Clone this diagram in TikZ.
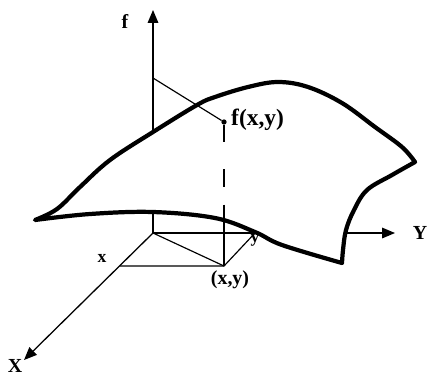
\documentclass[tikz,border=0pt]{standalone}
\usepackage{fontspec}
\setmainfont{Liberation Serif}
\usetikzlibrary{arrows.meta,positioning}

\begin{document}
\begin{tikzpicture}[
    x=0.03cm, y=-0.03cm,
    axis/.style={line width=1pt},
    arrow/.style={-{Triangle[length=11pt,width=9pt]}, line width=1.1pt},
    surface/.style={line width=3.6pt, fill=white, line join=round},
    proj/.style={line width=1pt},
    dotnode/.style={circle, fill, inner sep=0pt, minimum size=4.5pt},
    lbl/.style={font=\fontsize{17}{19}\selectfont\bfseries, inner sep=0pt},
    smalllbl/.style={font=\fontsize{15}{17}\selectfont\bfseries, inner sep=0pt},
    biglbl/.style={font=\fontsize{20}{22}\selectfont\bfseries, inner sep=0pt}
]
    \useasboundingbox (0,0) rectangle (429,379);

    % Axes
    \coordinate (O) at (153,233);
    \coordinate (ftip) at (153,10);
    \coordinate (Ytip) at (395,233);
    \coordinate (Xtip) at (24,360);
    \draw[arrow] (O) -- (ftip);
    \draw[arrow] (O) -- (Ytip);
    \draw[arrow] (O) -- (Xtip);

    % Projections in the base plane
    \coordinate (xpt) at (120,266);
    \coordinate (ypt) at (255,233);
    \coordinate (pxy) at (224,266);
    \draw[proj] (xpt) -- (pxy) -- (ypt);
    \draw[proj] (O) -- (pxy);

    % Surface
    \draw[surface] plot[smooth, tension=0.6] coordinates {(35,220) (57,209) (80,187) (110,160) (153,132) (197,105) (215,97) (248,87) (278,82) (308,87) (342,103) (375,127) (402,147) (415,162)}
        -- plot[smooth, tension=0.6] coordinates {(415,162) (392,175) (367,190) (354,210) (346,230) (343,250) (342,263)}
        -- plot[smooth, tension=0.6] coordinates {(342,263) (282,245) (255,232) (215,218) (153,212) (90,214) (35,220)}
        -- cycle;

    % Point on the surface
    \node[dotnode] (fxy) at (224,122) {};
    \coordinate (fa) at (153,78);
    \draw[proj] (fa) -- (fxy);
    \draw[proj, dash pattern=on 15pt off 23pt on 15pt off 15pt on 80pt] (fxy) -- (pxy);

    % Labels
    \node[lbl] (flab) at (125,21) {f};
    \node[lbl] (Xlab) at (15,366) {X};
    \node[lbl] (Ylab) at (420,233) {Y};
    \node[smalllbl] (xlab) at (102,258) {x};
    \node[smalllbl] (ylab) at (255,240) {y};
    \node[lbl] (xylab) at (230,280) {(x,y)};
    \node[biglbl, anchor=west] (fxylab) at (231,120) {f(x,y)};
\end{tikzpicture}
\end{document}
